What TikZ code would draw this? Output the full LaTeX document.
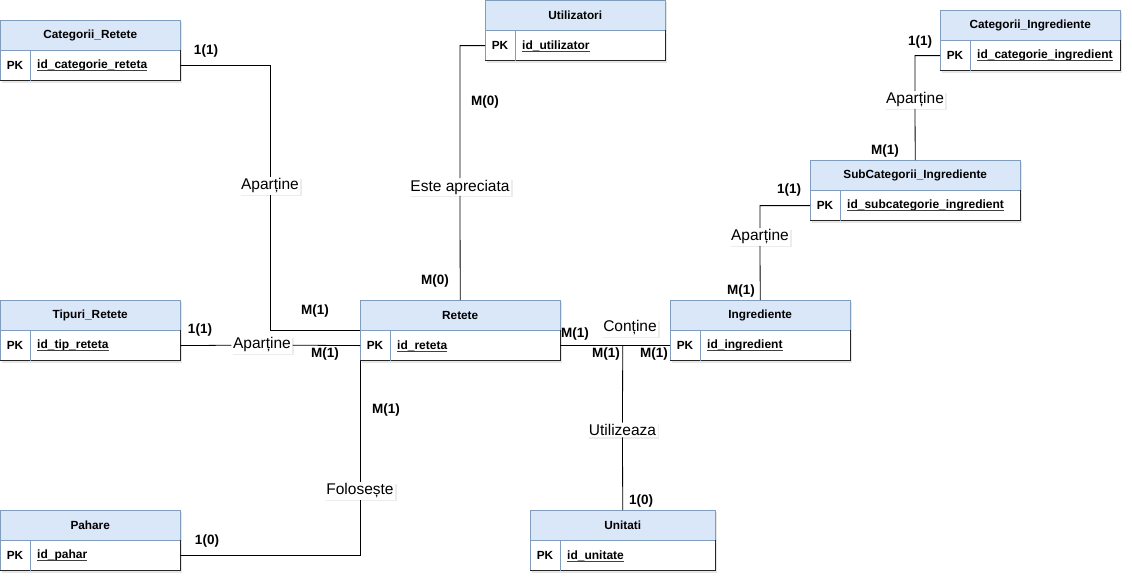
\documentclass[tikz,border=0pt]{standalone}
\usepackage{fontspec}
\setmainfont{Liberation Sans}
\usetikzlibrary{shadows}
\definecolor{hdrblue}{RGB}{218,231,248}
\definecolor{tblborder}{RGB}{128,157,190}
\tikzset{
    hdr/.style={draw=tblborder, fill=hdrblue, inner sep=0pt, minimum height=30pt,
        font=\fontsize{11.8}{14}\selectfont\bfseries,
        drop shadow={opacity=0.2, shadow xshift=2pt, shadow yshift=-2pt}},
    rowbox/.style={draw=tblborder, fill=white, inner sep=0pt, minimum height=30pt,
        drop shadow={opacity=0.2, shadow xshift=2pt, shadow yshift=-2pt}},
    pktext/.style={inner sep=0pt, font=\fontsize{11.8}{14}\selectfont\bfseries},
    fieldtext/.style={inner sep=0pt, anchor=west, font=\fontsize{12}{14}\selectfont\bfseries},
    rel/.style={fill=white, inner sep=1.5pt, font=\fontsize{15.5}{18}\selectfont,
        drop shadow={opacity=0.15, shadow xshift=1.5pt, shadow yshift=-1.5pt}},
    card/.style={inner sep=0pt, font=\fontsize{13.5}{16}\selectfont\bfseries},
    conn/.style={draw=black, line width=0.8pt},
}
\newcommand{\ertable}[6]{%
    \node[hdr, minimum width=#4pt, anchor=north west] (#1-h) at (#2,#3) {#5};
    \node[rowbox, minimum width=#4pt, anchor=north west] (#1) at (#1-h.south west) {};
    \draw[black!85, line width=0.8pt] (#1.south west) -- (#1.south east) -- (#1.north east);
    \draw[tblborder] ([xshift=30pt]#1.north west) -- ([xshift=30pt]#1.south west);
    \node[pktext] (#1-pk) at ([xshift=15pt]#1.west) {PK};
    \node[fieldtext] (#1-f) at ([xshift=37pt]#1.west) {#6};
    \draw[black!75, line width=0.8pt] ([yshift=-2pt]#1-f.base west) -- ([yshift=-2pt]#1-f.base east);
}
\begin{document}
\begin{tikzpicture}[x=1pt, y=-1pt]
    \useasboundingbox (0,0) rectangle (1132,582);
    \ertable{catret}{0}{20}{180}{Categorii\_Retete}{id\_categorie\_reteta}
    \ertable{utiliz}{485}{0}{180}{Utilizatori}{id\_utilizator}
    \ertable{catingr}{940}{10}{180}{Categorii\_Ingrediente}{id\_categorie\_ingredient}
    \ertable{subcat}{810}{160}{210}{SubCategorii\_Ingrediente}{id\_subcategorie\_ingredient}
    \ertable{tipuri}{0}{300}{180}{Tipuri\_Retete}{id\_tip\_reteta}
    \ertable{retete}{360}{300}{200}{Retete}{id\_reteta}
    \ertable{ingred}{670}{300}{180}{Ingrediente}{id\_ingredient}
    \ertable{pahare}{0}{510}{180}{Pahare}{id\_pahar}
    \ertable{unitati}{530}{510}{185}{Unitati}{id\_unitate}

    \node[rel] (apart1) at (270,186) {Aparține};
    \node[rel] (apart2) at (262,345) {Aparține};
    \node[rel] (esteapr) at (460,187) {Este apreciata};
    \node[rel] (apart3) at (915,100) {Aparține};
    \node[rel] (apart4) at (760,237) {Aparține};
    \node[rel] (contine) at (630,328) {Conține};
    \node[rel] (utilz) at (622.5,430) {Utilizeaza};
    \node[rel] (folos) at (360,491) {Folosește};

    \draw[conn] (catret.east) -| (apart1) |- (retete.north west);
    \draw[conn] (tipuri.east) -- (apart2) -- (retete.west);
    \draw[conn] (utiliz.west) -| (esteapr) -- (retete-h.north);
    \draw[conn] (catingr.west) -| (apart3) -- (subcat-h.north);
    \draw[conn] (subcat.west) -| (apart4) -- (ingred-h.north);
    \draw[conn] (retete.east) -- (ingred.west);
    \draw[conn] (retete.east -| unitati-h.north) -- (utilz) -- (unitati-h.north);
    \draw[conn] (pahare.east) -| (folos) -- (retete.south west);

    \node[card] (c1) at (206,51) {1(1)};
    \node[card] (c2) at (315,311) {M(1)};
    \node[card] (c3) at (200,330) {1(1)};
    \node[card] (c4) at (325,354) {M(1)};
    \node[card] (c5) at (485,102) {M(0)};
    \node[card] (c6) at (435,281) {M(0)};
    \node[card] (c7) at (920,42) {1(1)};
    \node[card] (c8) at (885,151) {M(1)};
    \node[card] (c9) at (789,190) {1(1)};
    \node[card] (c10) at (741,291) {M(1)};
    \node[card] (c11) at (575,334) {M(1)};
    \node[card] (c12) at (606,354) {M(1)};
    \node[card] (c13) at (654,354) {M(1)};
    \node[card] (c14) at (386,410) {M(1)};
    \node[card] (c15) at (207,541) {1(0)};
    \node[card] (c16) at (641,501) {1(0)};
\end{tikzpicture}
\end{document}
